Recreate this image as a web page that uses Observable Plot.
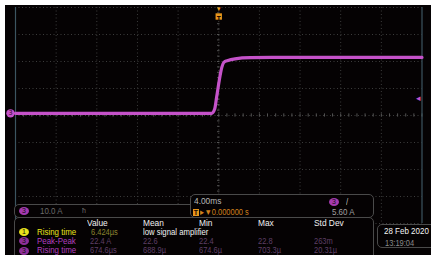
<!DOCTYPE html>
<html><head><meta charset="utf-8">
<script src="https://cdn.jsdelivr.net/npm/d3@7"></script>
<script src="https://cdn.jsdelivr.net/npm/@observablehq/plot@0.6"></script>
<style>
html,body{margin:0;padding:0;background:#fff;}
#wrap{position:relative;width:431px;height:255px;overflow:hidden;background:#fff;font-family:"Liberation Sans",Arial,sans-serif;}
#scope{position:absolute;left:5px;top:5px;width:426px;height:250px;background:#050203;}
#scope svg{position:absolute;left:0;top:0;}
.t{position:absolute;white-space:nowrap;line-height:1;transform-origin:0 50%;}
.box{position:absolute;border:1px solid #4a4a4a;border-radius:5px;background:#050203;box-sizing:border-box;}
.badge{position:absolute;border-radius:50%;text-align:center;font-size:7px;line-height:8px;width:10px;height:8px;color:#111;}
</style></head>
<body><div id="wrap"><div id="scope"></div></div>
<script>
// ---- data ----
const traceTime = [-20, -10, -2, -0.7, -0.4, -0.2, 0.05, 0.3, 0.5, 0.9, 1.6, 3.1, 6, 12, 20];
const traceAmps = [0, 0, 0, 0, 1.6, 6.2, 12.2, 17, 18.9, 19.6, 20.2, 20.6, 20.7, 20.7, 20.7];
const gridTimes = [-20, -16, -12, -8, -4, 0, 4, 8, 12, 16, 20];
const gridAmps = [-40.8, -30.8, -20.8, -10.8, -0.8, 9.2, 19.2, 29.2, 39.2];
const centerTime = 0, centerAmps = -0.8;
const minorTimes = d3.range(-20, 20.01, 0.8);
const minorAmps = d3.range(-40.8, 39.3, 2);
const triggerLevel = 5.6;
const channelScale = "10.0 A";
const timebase = "4.00ms";
const trigDelay = "\u25B8\u25BC0.000000 s";
const trigLevelText = "5.60 A";
const headers = ["Value", "Mean", "Min", "Max", "Std Dev"];
const rowSources = ["1", "3", "3"];
const rowLabels = ["Rising time", "Peak-Peak", "Rising time"];
const row1Values = ["6.424µs", "low signal amplifier"];
const row2Values = ["22.4 A", "22.6", "22.4", "22.8", "263m"];
const row3Values = ["674.6µs", "688.9µ", "674.6µ", "703.3µ", "20.31µ"];
const dateText = "28 Feb 2020";
const clockText = "13:19:04";

const trace = traceTime.map((t, i) => ({t, a: traceAmps[i]}));
const purple = "#c552c9";
const gridCol = "#3c3c3c";

const plot = Plot.plot({
  width: 426, height: 250,
  marginLeft: 10, marginRight: 9.5, marginTop: 2, marginBottom: 32,
  style: {background: "transparent", overflow: "visible"},
  x: {domain: [-20, 20], axis: null},
  y: {domain: [-40.8, 39.2], axis: null},
  marks: [
    Plot.ruleX(gridTimes.slice(1, -1), {stroke: gridCol, strokeDasharray: "1,2.5", strokeWidth: 1}),
    Plot.ruleY(gridAmps, {stroke: gridCol, strokeDasharray: "1,2.5", strokeWidth: 1}),
    Plot.ruleX(minorTimes, {x: d => d, y1: centerAmps - 0.6, y2: centerAmps + 0.6, stroke: "#555", strokeWidth: 1}),
    Plot.ruleY(minorAmps, {y: d => d, x1: centerTime - 0.12, x2: centerTime + 0.12, stroke: "#555", strokeWidth: 1}),
    Plot.ruleX([gridTimes[0], gridTimes[gridTimes.length - 1]], {stroke: "#3c5560", strokeWidth: 1.2}),
    Plot.line(trace, {x: "t", y: "a", stroke: purple, strokeWidth: 3.2, curve: "monotone-x"}),
    Plot.text(["\u25BC"], {x: [centerTime], frameAnchor: "top", dy: -1, fill: "#f0a020", fontSize: 6}),
    Plot.dot([0], {x: [centerTime], frameAnchor: "top", dy: 9, symbol: "square", r: 3.6, fill: "#e8961c"}),
    Plot.text(["T"], {x: [centerTime], frameAnchor: "top", dy: 9, fill: "#1a0a00", fontSize: 7, fontWeight: "bold"}),
    Plot.dot([0], {x: [gridTimes[0]], y: [0], dx: -5, r: 4.2, fill: purple}),
    Plot.text(["3"], {x: [gridTimes[0]], y: [0], dx: -5, fill: "#200020", fontSize: 6.5}),
    Plot.text(["\u25C2"], {x: [gridTimes[gridTimes.length - 1]], y: [triggerLevel], dx: -4, fill: purple, fontSize: 9})
  ]
});
document.getElementById("scope").appendChild(plot);

// ---- bottom panel overlay ----
const wrap = document.getElementById("wrap");
function el(cls, x, y, w, h) {
  const d = document.createElement("div"); d.className = cls;
  d.style.left = x + "px"; d.style.top = y + "px";
  if (w != null) d.style.width = w + "px";
  if (h != null) d.style.height = h + "px";
  wrap.appendChild(d); return d;
}
function txt(x, cy, s, color, size, sx) {
  const d = el("t", x, cy - size / 2);
  d.textContent = s; d.style.color = color; d.style.fontSize = size + "px";
  d.style.transform = "scaleX(" + (sx == null ? 0.88 : sx) + ")";
  return d;
}
function badge(cx, cy, s, bg) {
  const d = el("badge", cx - 5, cy - 4); d.textContent = s; d.style.background = bg; return d;
}

// channel tab
const ch = el("box", 14, 204, 180, 14); ch.style.borderRadius = "5px 0 0 5px";
badge(24, 211, "3", "#a53ab0");
txt(40, 211, channelScale, "#6a6a6a", 9);
txt(82, 211, "ħ", "#6a6a6a", 8);

// timebase box
el("box", 190, 194, 184, 24);
txt(194, 201, timebase, "#b8b8b8", 9.5);
const tb = el("t", 193, 209); tb.style.width = "6px"; tb.style.height = "7px"; tb.style.background = "#e8961c";
tb.style.fontSize = "7px"; tb.style.color = "#1a0a00"; tb.style.textAlign = "center"; tb.style.lineHeight = "7px"; tb.style.fontWeight = "bold"; tb.textContent = "T";
txt(200, 212.5, trigDelay, "#d0801c", 8.5);
badge(334, 202, "3", "#a53ab0");
txt(346, 202, "/", "#bbb", 9);
txt(332, 212, trigLevelText, "#a0a0a0", 9);

// measurement box
el("box", 14, 217, 360, 45);
const colX = [87, 143, 199, 258, 314];
headers.forEach((h, i) => txt(colX[i], 222.5, h, "#f0f0f0", 9.5));
const rowY = [232.2, 241.4, 250.5];
const labelCol = ["#e8e21c", "#b23fbf", "#b23fbf"];
const badgeCol = ["#e8e21c", "#8e2f9a", "#8e2f9a"];
rowLabels.forEach((l, i) => { badge(24, rowY[i], rowSources[i], badgeCol[i]); txt(37, rowY[i], l, labelCol[i], 9); });
txt(91, rowY[0], row1Values[0], "#8a8430", 8.5);
txt(143, rowY[0], row1Values[1], "#f2f2f2", 9, 0.86);
const valX = [90, 143, 199, 258, 314];
row2Values.forEach((v, i) => txt(valX[i], rowY[1], v, "#5e3f66", 8.5));
row3Values.forEach((v, i) => txt(valX[i], rowY[2], v, "#5e3f66", 8.5));

// date box
const db = el("box", 377, 224, 60, 24); db.style.borderRadius = "5px 0 0 5px";
txt(384, 231, dateText, "#f4f4f4", 9.5, 0.84);
txt(385, 243, clockText, "#8a8a8a", 8.5);
</script></body></html>
